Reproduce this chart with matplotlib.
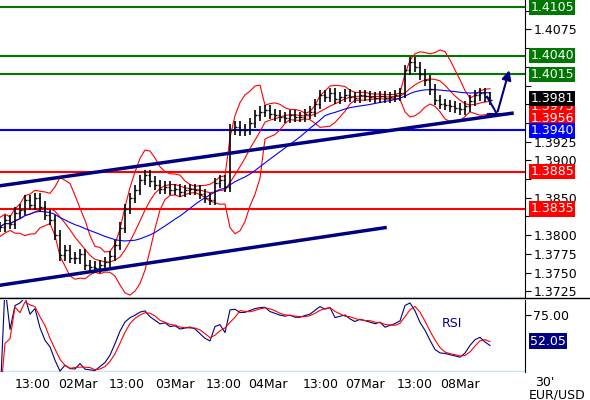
import matplotlib
matplotlib.use("Agg")
import matplotlib.pyplot as plt
import numpy as np
import pandas as pd

closes = [1.3811,1.3820,1.3815,1.3830,1.3834,1.3847,1.3840,1.3850,1.3838,1.3827,
          1.3820,1.3800,1.3773,1.3780,1.3770,1.3769,1.3775,1.3760,1.3758,1.3756,
          1.3760,1.3764,1.3772,1.3787,1.3810,1.3835,1.3850,1.3860,1.3874,1.3880,
          1.3872,1.3867,1.3862,1.3865,1.3860,1.3862,1.3858,1.3860,1.3862,1.3860,
          1.3855,1.3850,1.3847,1.3870,1.3874,1.3865,1.3941,1.3945,1.3940,1.3941,
          1.3950,1.3960,1.3965,1.3967,1.3962,1.3960,1.3958,1.3957,1.3960,1.3958,
          1.3958,1.3962,1.3965,1.3975,1.3987,1.3985,1.3990,1.3982,1.3985,1.3988,
          1.3985,1.3983,1.3987,1.3986,1.3985,1.3984,1.3986,1.3983,1.3985,1.3987,
          1.3990,1.4021,1.4031,1.4025,1.4015,1.4007,1.3995,1.3981,1.3975,1.3974,
          1.3972,1.3970,1.3968,1.3972,1.3980,1.3987,1.3990,1.3985,1.3981]
bar_step = 5
green_levels = [1.4105, 1.4040, 1.4015]
blue_levels = [1.3940]
red_levels = [1.3885, 1.3835]
upper_trend = [(0, 1.3866), (512, 1.3963)]
lower_trend = [(0, 1.3733), (385, 1.3810)]
xtick_pos = [33, 78, 127, 175, 224, 268, 321, 365, 415, 460]
xtick_labels = ["13:00", "02Mar", "13:00", "03Mar", "13:00", "04Mar", "13:00", "07Mar", "13:00", "08Mar"]

c = pd.Series(closes)
x = np.arange(len(closes)) * bar_step
mid = c.rolling(8, min_periods=1).mean()
sd = c.rolling(8, min_periods=2).std().bfill()
ma = c.rolling(20, min_periods=1).mean()
d = c.diff().fillna(0)
up = d.clip(lower=0).ewm(alpha=1/12).mean()
dn = (-d.clip(upper=0)).ewm(alpha=1/12).mean()
rsi = 100 - 100 / (1 + up / dn.replace(0, 1e-9))
rsi_sig = rsi.rolling(3, min_periods=1).mean()

W = 590; H = 400
fig = plt.figure(figsize=(5.9, 4.0), dpi=100)
right = 525 / W
ax = fig.add_axes([0, 1 - 298 / H, right, 298 / H])
ax2 = fig.add_axes([0, 1 - 372 / H, right, 72 / H])
xmax = 525
for a in (ax, ax2):
    a.set_xlim(0, xmax)
    for s in ("top", "left", "bottom"):
        a.spines[s].set_visible(False)
    a.spines["right"].set_color("black")
    a.yaxis.tick_right()
    a.tick_params(axis="y", labelsize=9, length=4, pad=2)
    a.set_xticks([])
ytop = 1.4105 + 7 / 18.7 * 0.0025
ybot = 1.4105 - 291 / 18.7 * 0.0025
ax.set_ylim(ybot, ytop)
yt = np.round(np.arange(1.3725, 1.41051, 0.0025), 4)
hidden = {1.41, 1.405, 1.4025, 1.4, 1.3975, 1.395, 1.3875, 1.3825}
ax.set_yticks(yt)
ax.set_yticklabels(["" if round(v, 4) in hidden else f"{v:.4f}" for v in yt])

for lv in green_levels:
    ax.axhline(lv, color="#007700", lw=1.5)
for lv in blue_levels:
    ax.axhline(lv, color="#0000ff", lw=1.5)
for lv in red_levels:
    ax.axhline(lv, color="#ff0000", lw=1.5)
ax.axhline(ybot + 0.0002, color="#cce0f0", lw=1)

ax.plot(x, mid + 2 * sd, color="red", lw=0.8)
ax.plot(x, mid - 2 * sd, color="red", lw=0.8)
ax.plot(x, mid, color="red", lw=0.8)
ax.plot(x, ma, color="blue", lw=0.8)

opens = [closes[0]] + closes[:-1]
for xi, o, cl in zip(x, opens, closes):
    lo, hi = min(o, cl) - 0.0007, max(o, cl) + 0.0007
    ax.vlines(xi, lo, hi, color="black", lw=1.2)
    ax.hlines(o, xi - 2, xi, color="black", lw=1)
    ax.hlines(cl, xi, xi + 2, color="black", lw=1)

for tr in (upper_trend, lower_trend):
    ax.plot([tr[0][0], tr[1][0]], [tr[0][1], tr[1][1]], color="#000080", lw=2.5)
ax.plot([487, 497], [1.3985, 1.3962], color="#000080", lw=1.5)
ax.plot([488, 512], [1.3962, 1.3962], color="#000080", lw=1.5)
ax.annotate("", xy=(510, 1.4024), xytext=(497, 1.3962),
            arrowprops=dict(arrowstyle="-|>", color="#000080", lw=1.5, mutation_scale=14))

def box(a, y, txt, col, fs=9):
    a.text(1.01, y, txt, transform=a.get_yaxis_transform(), fontsize=fs, color="white",
           va="center", ha="left", bbox=dict(boxstyle="square,pad=0.1", fc=col, ec="none"))

for lv in green_levels:
    box(ax, lv, f"{lv:.4f}", "#007700")
box(ax, 1.3972, "1.3973", "#ff0000")
box(ax, 1.3983, "1.3981", "#000000")
box(ax, 1.3956, "1.3956", "#ff0000")
box(ax, 1.3940, "1.3940", "#0000ff")
for lv in red_levels:
    box(ax, lv, f"{lv:.4f}", "#ff0000")

ax2.set_ylim(25, 88)
ax2.set_yticks([75])
ax2.set_yticklabels(["75.00"])
ax2.axhline(25.5, color="#cce0f0", lw=1)
ax2.plot(x, rsi, color="#000080", lw=0.8)
ax2.plot(x, rsi_sig, color="red", lw=0.8)
ax2.text(442, 64, "RSI", fontsize=9, color="#000080")
box(ax2, 52.05, "52.05", "#000080")

fig.add_artist(plt.Line2D([0, 1], [1 - 298 / H, 1 - 298 / H], color="black", lw=1))
for p, l in zip(xtick_pos, xtick_labels):
    fig.text(p / W, 1 - 385 / H, l, ha="center", va="center", fontsize=9)
fig.text(545 / W, 1 - 382 / H, "30'", ha="center", va="center", fontsize=9)
fig.text(557 / W, 1 - 395 / H, "EUR/USD", ha="center", va="center", fontsize=9)
fig.savefig("out.png", dpi=100)
